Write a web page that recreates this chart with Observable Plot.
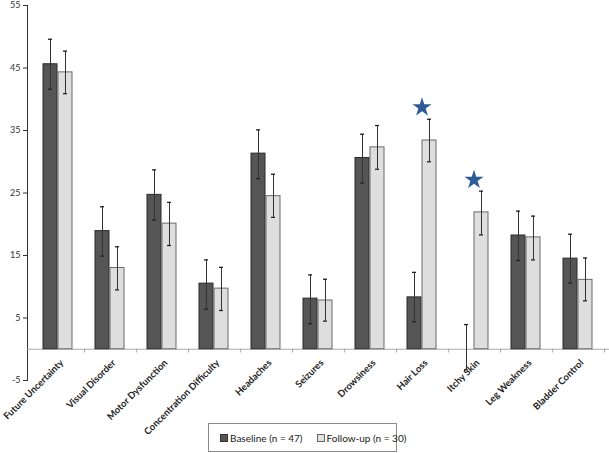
<!DOCTYPE html>
<html>
<head>
<meta charset="utf-8">
<script src="https://cdn.jsdelivr.net/npm/d3@7"></script>
<script src="https://cdn.jsdelivr.net/npm/@observablehq/plot@0.6"></script>
<style>
  html, body { margin: 0; padding: 0; background: #fff; }
  #wrap { position: relative; width: 609px; height: 453px; font-family: Lato, "Open Sans", sans-serif; }
  #legend { position: absolute; left: 208px; top: 423px; width: 187px; height: 27px; border: 1px solid #8a8a8a;
    display: flex; align-items: center; font-size: 10px; color: #222; box-sizing: content-box; }
  .sw { display: inline-block; width: 6px; height: 6px; border: 1px solid #333; margin-right: 2px; vertical-align: middle; }
  .item { display: flex; align-items: center; white-space: nowrap; }
</style>
</head>
<body>
<div id="wrap"><div id="chart"></div>
<div id="legend">
  <div class="item" style="margin-left:11px"><span class="sw" style="background:#555"></span>Baseline (n = 47)</div>
  <div class="item" style="margin-left:14px"><span class="sw" style="background:#e0e0e0;border-color:#666"></span>Follow-up (n = 30)</div>
</div>
</div>
<script>
const categories = ["Future Uncertainty","Visual Disorder","Motor Dysfunction","Concentration Difficulty","Headaches","Seizures","Drowsiness","Hair Loss","Itchy Skin","Leg Weakness","Bladder Control"];
const baseline   = [45.6, 18.9, 24.7, 10.5, 31.3, 8.1, 30.6, 8.3, 0, 18.2, 14.5];
const followUp   = [44.3, 13.0, 20.1, 9.7, 24.5, 7.8, 32.3, 33.4, 21.9, 17.9, 11.1];
const baselineLo = [41.6, 14.9, 20.7, 6.4, 27.3, 4.1, 26.6, 4.4, -3.3, 14.2, 10.6];
const baselineHi = [49.6, 22.8, 28.7, 14.3, 35.1, 11.9, 34.4, 12.3, 3.95, 22.1, 18.4];
const followLo   = [40.9, 9.5, 16.6, 6.2, 21.1, 4.5, 28.8, 30.0, 18.3, 14.3, 7.75];
const followHi   = [47.7, 16.4, 23.5, 13.1, 28.0, 11.2, 35.8, 36.8, 25.3, 21.3, 14.6];
const starCats   = ["Hair Loss", "Itchy Skin"];
const starVals   = [38.7, 27.1];
const yTicks     = [-5, 5, 15, 25, 35, 45, 55];

const W = 609, H = 453, mL = 27, mR = 0, mT = 5, mB = 73;
const pInner = 0.433, pOuter = pInner / 2;
const step = (W - mL - mR) / categories.length;
const bw = step * (1 - pInner);      // width of a pair of bars
const half = bw / 2;
const cap = 2.5;

const rows = categories.map((c, i) => ({
  c, b: baseline[i], f: followUp[i], bl: baselineLo[i], bh: baselineHi[i], fl: followLo[i], fh: followHi[i]
}));
const stars = starCats.map((c, i) => ({c, v: starVals[i]}));

const chart = Plot.plot({
  width: W, height: H,
  marginLeft: mL, marginRight: mR, marginTop: mT, marginBottom: mB,
  style: {fontFamily: "Lato, 'Open Sans', sans-serif", fontSize: "9px", color: "#333", background: "#fff"},
  x: {domain: categories, paddingInner: pInner, paddingOuter: pOuter, axis: null},
  y: {domain: [-5, 55], ticks: yTicks, tickFormat: d => String(d), tickSize: 4, tickPadding: 3, label: null, line: true},
  marks: [
    Plot.ruleY([0], {stroke: "#aaa", strokeWidth: 1.2}),
    Plot.ruleX(categories, {x: d => d, dx: step / 2, y1: 0, y2: -0.6, stroke: "#aaa"}),
    Plot.barY(rows, {x: "c", y: "b", insetRight: half, fill: "#555", stroke: "#2a2a2a", strokeWidth: 1}),
    Plot.barY(rows, {x: "c", y: "f", insetLeft: half, fill: "#dedede", stroke: "#6a6a6a", strokeWidth: 1}),
    Plot.ruleX(rows, {x: "c", dx: -half / 2, y1: "bl", y2: "bh", stroke: "#333", strokeWidth: 1}),
    Plot.ruleX(rows, {x: "c", dx: half / 2, y1: "fl", y2: "fh", stroke: "#333", strokeWidth: 1}),
    Plot.tickY(rows, {x: "c", y: "bh", insetLeft: half / 2 - cap, insetRight: bw - half / 2 - cap, stroke: "#222", strokeWidth: 1.3}),
    Plot.tickY(rows, {x: "c", y: "bl", insetLeft: half / 2 - cap, insetRight: bw - half / 2 - cap, stroke: "#222", strokeWidth: 1.3}),
    Plot.tickY(rows, {x: "c", y: "fh", insetLeft: bw - half / 2 - cap, insetRight: half / 2 - cap, stroke: "#222", strokeWidth: 1.3}),
    Plot.tickY(rows, {x: "c", y: "fl", insetLeft: bw - half / 2 - cap, insetRight: half / 2 - cap, stroke: "#222", strokeWidth: 1.3}),
    Plot.dot(stars, {x: "c", y: "v", symbol: "star", r: 6, fill: "#2e5c97", stroke: "none"}),
    Plot.text(categories, {x: d => d, y: 0, dx: 4, dy: 12, rotate: -45, textAnchor: "end", text: d => d,
      fontWeight: "bold", fontSize: 9.5, fill: "#222"})
  ]
});
document.getElementById("chart").appendChild(chart);
</script>
</body>
</html>
